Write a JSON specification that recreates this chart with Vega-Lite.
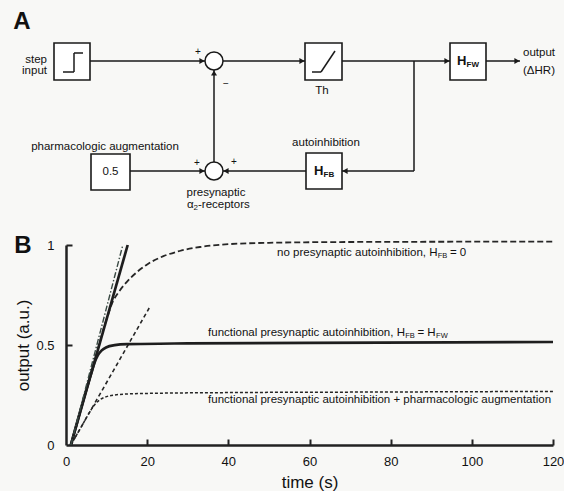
{
  "$schema": "https://vega.github.io/schema/vega-lite/v6.json",
  "width": 487,
  "height": 200,
  "autosize": {"type": "none"},
  "padding": {"left": 66, "top": 245, "right": 11, "bottom": 46},
  "background": "#f8f8f6",
  "config": {
    "view": {"stroke": null},
    "font": "Liberation Sans",
    "axis": {
      "grid": false,
      "tickWidth": 2,
      "tickColor": "#222",
      "domainWidth": 2.5,
      "domainColor": "#222",
      "labelFont": "Liberation Sans",
      "labelFontSize": 13,
      "labelColor": "#111",
      "labelFlush": false,
      "titleFont": "Liberation Sans",
      "titleFontSize": 17,
      "titleFontWeight": "normal",
      "titleColor": "#111"
    }
  },
  "datasets": {
    "curves": [
      {"s": "noai", "t": 1.2, "v": 0}, {"s": "noai", "t": 6, "v": 0.343}, {"s": "noai", "t": 10, "v": 0.629},
      {"s": "noai", "t": 11.5, "v": 0.715}, {"s": "noai", "t": 13, "v": 0.765}, {"s": "noai", "t": 15, "v": 0.816},
      {"s": "noai", "t": 17.5, "v": 0.865}, {"s": "noai", "t": 20, "v": 0.903}, {"s": "noai", "t": 24, "v": 0.944},
      {"s": "noai", "t": 28, "v": 0.97}, {"s": "noai", "t": 33, "v": 0.99}, {"s": "noai", "t": 40, "v": 1.004},
      {"s": "noai", "t": 50, "v": 1.011}, {"s": "noai", "t": 70, "v": 1.015}, {"s": "noai", "t": 120, "v": 1.017},
      {"s": "func", "t": 1.2, "v": 0}, {"s": "func", "t": 6.3, "v": 0.364}, {"s": "func", "t": 7.0, "v": 0.41},
      {"s": "func", "t": 7.8, "v": 0.447}, {"s": "func", "t": 8.8, "v": 0.473}, {"s": "func", "t": 10, "v": 0.489},
      {"s": "func", "t": 12, "v": 0.499}, {"s": "func", "t": 15, "v": 0.504}, {"s": "func", "t": 30, "v": 0.508},
      {"s": "func", "t": 60, "v": 0.511}, {"s": "func", "t": 120, "v": 0.515},
      {"s": "pharm", "t": 1.2, "v": 0}, {"s": "pharm", "t": 4, "v": 0.099}, {"s": "pharm", "t": 6, "v": 0.17},
      {"s": "pharm", "t": 7.2, "v": 0.205}, {"s": "pharm", "t": 8.5, "v": 0.228}, {"s": "pharm", "t": 10, "v": 0.242},
      {"s": "pharm", "t": 12, "v": 0.25}, {"s": "pharm", "t": 15, "v": 0.255}, {"s": "pharm", "t": 20, "v": 0.258},
      {"s": "pharm", "t": 40, "v": 0.262}, {"s": "pharm", "t": 80, "v": 0.265}, {"s": "pharm", "t": 120, "v": 0.268},
      {"s": "lin", "t": 1.2, "v": 0}, {"s": "lin", "t": 15.2, "v": 1.0},
      {"s": "dd", "t": 1.2, "v": 0}, {"s": "dd", "t": 14.0, "v": 1.0},
      {"s": "half", "t": 1.2, "v": 0}, {"s": "half", "t": 20.5, "v": 0.685}
    ],
    "clabels": [
      {"k": "m", "t": 52.0, "v": 0.96, "text": "no presynaptic autoinhibition, H"},
      {"k": "s", "t": 91.6, "v": 0.945, "text": "FB"},
      {"k": "m", "t": 94.6, "v": 0.96, "text": "= 0"},
      {"k": "m", "t": 35.0, "v": 0.56, "text": "functional presynaptic autoinhibition, H"},
      {"k": "s", "t": 83.6, "v": 0.545, "text": "FB"},
      {"k": "m", "t": 86.6, "v": 0.56, "text": "= H"},
      {"k": "s", "t": 91.2, "v": 0.545, "text": "FW"},
      {"k": "m", "t": 35.0, "v": 0.225, "text": "functional presynaptic autoinhibition + pharmacologic augmentation"}
    ],
    "boxes": [
      {"x": 54, "y": 43, "x2": 90, "y2": 80},
      {"x": 305, "y": 43, "x2": 342, "y2": 80},
      {"x": 450, "y": 43, "x2": 486, "y2": 80},
      {"x": 306, "y": 153, "x2": 342, "y2": 189},
      {"x": 91, "y": 154, "x2": 130, "y2": 190}
    ],
    "wires": [
      {"x": 90, "y": 61, "x2": 205, "y2": 61},
      {"x": 223, "y": 61, "x2": 305, "y2": 61},
      {"x": 342, "y": 61, "x2": 450, "y2": 61},
      {"x": 486, "y": 61, "x2": 520, "y2": 61},
      {"x": 414, "y": 61, "x2": 414, "y2": 171},
      {"x": 414, "y": 171, "x2": 342, "y2": 171},
      {"x": 306, "y": 171, "x2": 223, "y2": 171},
      {"x": 130, "y": 171, "x2": 205, "y2": 171},
      {"x": 214, "y": 162, "x2": 214, "y2": 70}
    ],
    "glyphs": [
      {"x": 63, "y": 72, "x2": 74, "y2": 72},
      {"x": 74, "y": 72, "x2": 74, "y2": 53},
      {"x": 74, "y": 53, "x2": 83, "y2": 53},
      {"x": 312, "y": 72, "x2": 321, "y2": 72},
      {"x": 321, "y": 72, "x2": 335, "y2": 51}
    ],
    "arrows": [
      {"x": 202, "y": 61, "d": "right"},
      {"x": 302, "y": 61, "d": "right"},
      {"x": 447, "y": 61, "d": "right"},
      {"x": 517, "y": 61, "d": "right"},
      {"x": 345, "y": 171, "d": "left"},
      {"x": 226, "y": 171, "d": "left"},
      {"x": 202, "y": 171, "d": "right"},
      {"x": 214, "y": 73, "d": "up"}
    ],
    "junctions": [
      {"x": 214, "y": 61},
      {"x": 214, "y": 171}
    ],
    "dtexts": [
      {"k": "c", "x": 322, "y": 91, "text": "Th"},
      {"k": "c", "x": 539, "y": 53, "text": "output"},
      {"k": "c", "x": 539, "y": 71, "text": "(ΔHR)"},
      {"k": "c", "x": 326, "y": 143, "text": "autoinhibition"},
      {"k": "c", "x": 105, "y": 147, "text": "pharmacologic augmentation"},
      {"k": "c", "x": 110.5, "y": 172, "text": "0.5"},
      {"k": "c", "x": 216, "y": 193, "text": "presynaptic"},
      {"k": "r", "x": 47, "y": 60, "text": "step"},
      {"k": "r", "x": 47, "y": 71, "text": "input"},
      {"k": "l", "x": 187, "y": 205, "text": "α"},
      {"k": "l", "x": 198, "y": 205, "text": "-receptors"},
      {"k": "n", "x": 193.5, "y": 208, "text": "2"},
      {"k": "p", "x": 22, "y": 22, "text": "A"},
      {"k": "p", "x": 23, "y": 246, "text": "B"},
      {"k": "h", "x": 457, "y": 61, "text": "H"},
      {"k": "h", "x": 314, "y": 171, "text": "H"},
      {"k": "s", "x": 466.5, "y": 65, "text": "FW"},
      {"k": "s", "x": 323.5, "y": 175, "text": "FB"},
      {"k": "g", "x": 198, "y": 52, "text": "+"},
      {"k": "g", "x": 226, "y": 84, "text": "−"},
      {"k": "g", "x": 197, "y": 163, "text": "+"},
      {"k": "g", "x": 234, "y": 162, "text": "+"}
    ]
  },
  "layer": [
    {
      "resolve": {"axis": {"x": "independent", "y": "independent"}},
      "layer": [
        {
          "data": {"name": "curves"},
          "transform": [{"filter": "datum.s == 'noai'"}],
          "mark": {"type": "line", "color": "#262626", "strokeWidth": 1.8, "strokeDash": [6, 3], "interpolate": "monotone"},
          "encoding": {
            "x": {"field": "t", "type": "quantitative", "scale": {"domain": [0, 120], "nice": false, "zero": false},
                  "axis": {"values": [0, 20, 40, 60, 80, 100, 120], "ticks": false, "tickSize": 0, "labelPadding": 10, "titlePadding": 6}, "title": "time (s)"},
            "y": {"field": "v", "type": "quantitative", "scale": {"domain": [0, 1], "nice": false, "zero": false},
                  "axis": {"values": [0, 0.5, 1], "format": "~g", "ticks": false, "tickSize": 0, "labelPadding": 12, "titlePadding": 3}, "title": "output (a.u.)"}
          }
        },
        {
          "data": {"name": "curves"},
          "transform": [{"filter": "datum.s == 'half'"}],
          "mark": {"type": "line", "color": "#262626", "strokeWidth": 1.6, "strokeDash": [4, 3]},
          "encoding": {
            "x": {"field": "t", "type": "quantitative", "scale": {"domain": [0, 120], "nice": false, "zero": false},
                  "axis": {"orient": "top", "offset": -200, "values": [20, 40, 60, 80, 100, 120], "domain": false, "labels": false, "ticks": true, "tickSize": 6, "title": null}},
            "y": {"field": "v", "type": "quantitative", "scale": {"domain": [0, 1], "nice": false, "zero": false},
                  "axis": {"orient": "right", "offset": -487, "values": [0.5, 1], "domain": false, "labels": false, "ticks": true, "tickSize": 6, "title": null}}
          }
        },
        {
          "data": {"name": "curves"},
          "transform": [{"filter": "datum.s == 'pharm'"}],
          "mark": {"type": "line", "color": "#262626", "strokeWidth": 1.5, "strokeDash": [3, 2], "interpolate": "monotone"},
          "encoding": {
            "x": {"field": "t", "type": "quantitative", "scale": {"domain": [0, 120], "nice": false, "zero": false}, "axis": null},
            "y": {"field": "v", "type": "quantitative", "scale": {"domain": [0, 1], "nice": false, "zero": false}, "axis": null}
          }
        },
        {
          "data": {"name": "curves"},
          "transform": [{"filter": "datum.s == 'func'"}],
          "mark": {"type": "line", "color": "#1e1e1e", "strokeWidth": 2.7, "interpolate": "monotone"},
          "encoding": {
            "x": {"field": "t", "type": "quantitative", "scale": {"domain": [0, 120], "nice": false, "zero": false}, "axis": null},
            "y": {"field": "v", "type": "quantitative", "scale": {"domain": [0, 1], "nice": false, "zero": false}, "axis": null}
          }
        },
        {
          "data": {"name": "curves"},
          "transform": [{"filter": "datum.s == 'lin'"}],
          "mark": {"type": "line", "color": "#1e1e1e", "strokeWidth": 2.7},
          "encoding": {
            "x": {"field": "t", "type": "quantitative", "scale": {"domain": [0, 120], "nice": false, "zero": false}, "axis": null},
            "y": {"field": "v", "type": "quantitative", "scale": {"domain": [0, 1], "nice": false, "zero": false}, "axis": null}
          }
        },
        {
          "data": {"name": "curves"},
          "transform": [{"filter": "datum.s == 'dd'"}],
          "mark": {"type": "line", "color": "#3a4a44", "strokeWidth": 1.4, "strokeDash": [6, 2, 1.5, 2]},
          "encoding": {
            "x": {"field": "t", "type": "quantitative", "scale": {"domain": [0, 120], "nice": false, "zero": false}, "axis": null},
            "y": {"field": "v", "type": "quantitative", "scale": {"domain": [0, 1], "nice": false, "zero": false}, "axis": null}
          }
        },
        {
          "data": {"name": "clabels"},
          "transform": [{"filter": "datum.k == 'm'"}],
          "mark": {"type": "text", "align": "left", "baseline": "middle", "fontSize": 11.5, "color": "#111", "font": "Liberation Sans"},
          "encoding": {
            "x": {"field": "t", "type": "quantitative", "scale": {"domain": [0, 120], "nice": false, "zero": false}, "axis": null},
            "y": {"field": "v", "type": "quantitative", "scale": {"domain": [0, 1], "nice": false, "zero": false}, "axis": null},
            "text": {"field": "text"}
          }
        },
        {
          "data": {"name": "clabels"},
          "transform": [{"filter": "datum.k == 's'"}],
          "mark": {"type": "text", "align": "left", "baseline": "middle", "fontSize": 7.5, "color": "#111", "font": "Liberation Sans"},
          "encoding": {
            "x": {"field": "t", "type": "quantitative", "scale": {"domain": [0, 120], "nice": false, "zero": false}, "axis": null},
            "y": {"field": "v", "type": "quantitative", "scale": {"domain": [0, 1], "nice": false, "zero": false}, "axis": null},
            "text": {"field": "text"}
          }
        }
      ]
    },
    {
      "layer": [
        {
          "data": {"name": "wires"},
          "mark": {"type": "rule", "color": "#1a1a1a", "strokeWidth": 1.5},
          "encoding": {
            "x": {"field": "x", "type": "quantitative", "scale": {"domain": [0, 564], "range": [-66, 498], "nice": false, "zero": false}, "axis": null},
            "y": {"field": "y", "type": "quantitative", "scale": {"domain": [0, 245], "range": [-245, 0], "nice": false, "zero": false}, "axis": null},
            "x2": {"field": "x2"},
            "y2": {"field": "y2"}
          }
        },
        {
          "data": {"name": "boxes"},
          "mark": {"type": "rect", "fill": "#ffffff", "stroke": "#1a1a1a", "strokeWidth": 1.6},
          "encoding": {
            "x": {"field": "x", "type": "quantitative", "scale": {"domain": [0, 564], "range": [-66, 498], "nice": false, "zero": false}, "axis": null},
            "y": {"field": "y", "type": "quantitative", "scale": {"domain": [0, 245], "range": [-245, 0], "nice": false, "zero": false}, "axis": null},
            "x2": {"field": "x2"},
            "y2": {"field": "y2"}
          }
        },
        {
          "data": {"name": "glyphs"},
          "mark": {"type": "rule", "color": "#1a1a1a", "strokeWidth": 1.5},
          "encoding": {
            "x": {"field": "x", "type": "quantitative", "scale": {"domain": [0, 564], "range": [-66, 498], "nice": false, "zero": false}, "axis": null},
            "y": {"field": "y", "type": "quantitative", "scale": {"domain": [0, 245], "range": [-245, 0], "nice": false, "zero": false}, "axis": null},
            "x2": {"field": "x2"},
            "y2": {"field": "y2"}
          }
        },
        {
          "data": {"name": "junctions"},
          "mark": {"type": "point", "shape": "circle", "size": 324, "filled": true, "fill": "#ffffff", "stroke": "#1a1a1a", "strokeWidth": 1.5, "opacity": 1},
          "encoding": {
            "x": {"field": "x", "type": "quantitative", "scale": {"domain": [0, 564], "range": [-66, 498], "nice": false, "zero": false}, "axis": null},
            "y": {"field": "y", "type": "quantitative", "scale": {"domain": [0, 245], "range": [-245, 0], "nice": false, "zero": false}, "axis": null}
          }
        },
        {
          "data": {"name": "arrows"},
          "mark": {"type": "point", "filled": true, "size": 36, "color": "#1a1a1a", "opacity": 1},
          "encoding": {
            "x": {"field": "x", "type": "quantitative", "scale": {"domain": [0, 564], "range": [-66, 498], "nice": false, "zero": false}, "axis": null},
            "y": {"field": "y", "type": "quantitative", "scale": {"domain": [0, 245], "range": [-245, 0], "nice": false, "zero": false}, "axis": null},
            "shape": {"field": "d", "type": "nominal", "scale": {"domain": ["right", "left", "up"], "range": ["triangle-right", "triangle-left", "triangle-up"]}, "legend": null}
          }
        },
        {
          "data": {"name": "dtexts"},
          "transform": [{"filter": "datum.k == 'c'"}],
          "mark": {"type": "text", "align": "center", "baseline": "middle", "fontSize": 11.5, "color": "#111", "font": "Liberation Sans"},
          "encoding": {
            "x": {"field": "x", "type": "quantitative", "scale": {"domain": [0, 564], "range": [-66, 498], "nice": false, "zero": false}, "axis": null},
            "y": {"field": "y", "type": "quantitative", "scale": {"domain": [0, 245], "range": [-245, 0], "nice": false, "zero": false}, "axis": null},
            "text": {"field": "text"}
          }
        },
        {
          "data": {"name": "dtexts"},
          "transform": [{"filter": "datum.k == 'r'"}],
          "mark": {"type": "text", "align": "right", "baseline": "middle", "fontSize": 11.5, "color": "#111", "font": "Liberation Sans"},
          "encoding": {
            "x": {"field": "x", "type": "quantitative", "scale": {"domain": [0, 564], "range": [-66, 498], "nice": false, "zero": false}, "axis": null},
            "y": {"field": "y", "type": "quantitative", "scale": {"domain": [0, 245], "range": [-245, 0], "nice": false, "zero": false}, "axis": null},
            "text": {"field": "text"}
          }
        },
        {
          "data": {"name": "dtexts"},
          "transform": [{"filter": "datum.k == 'l'"}],
          "mark": {"type": "text", "align": "left", "baseline": "middle", "fontSize": 11.5, "color": "#111", "font": "Liberation Sans"},
          "encoding": {
            "x": {"field": "x", "type": "quantitative", "scale": {"domain": [0, 564], "range": [-66, 498], "nice": false, "zero": false}, "axis": null},
            "y": {"field": "y", "type": "quantitative", "scale": {"domain": [0, 245], "range": [-245, 0], "nice": false, "zero": false}, "axis": null},
            "text": {"field": "text"}
          }
        },
        {
          "data": {"name": "dtexts"},
          "transform": [{"filter": "datum.k == 'n'"}],
          "mark": {"type": "text", "align": "left", "baseline": "middle", "fontSize": 8, "color": "#111", "font": "Liberation Sans"},
          "encoding": {
            "x": {"field": "x", "type": "quantitative", "scale": {"domain": [0, 564], "range": [-66, 498], "nice": false, "zero": false}, "axis": null},
            "y": {"field": "y", "type": "quantitative", "scale": {"domain": [0, 245], "range": [-245, 0], "nice": false, "zero": false}, "axis": null},
            "text": {"field": "text"}
          }
        },
        {
          "data": {"name": "dtexts"},
          "transform": [{"filter": "datum.k == 'p'"}],
          "mark": {"type": "text", "align": "center", "baseline": "middle", "fontSize": 24, "fontWeight": "bold", "color": "#111", "font": "Liberation Sans"},
          "encoding": {
            "x": {"field": "x", "type": "quantitative", "scale": {"domain": [0, 564], "range": [-66, 498], "nice": false, "zero": false}, "axis": null},
            "y": {"field": "y", "type": "quantitative", "scale": {"domain": [0, 245], "range": [-245, 0], "nice": false, "zero": false}, "axis": null},
            "text": {"field": "text"}
          }
        },
        {
          "data": {"name": "dtexts"},
          "transform": [{"filter": "datum.k == 'h'"}],
          "mark": {"type": "text", "align": "left", "baseline": "middle", "fontSize": 13, "fontWeight": "bold", "color": "#111", "font": "Liberation Sans"},
          "encoding": {
            "x": {"field": "x", "type": "quantitative", "scale": {"domain": [0, 564], "range": [-66, 498], "nice": false, "zero": false}, "axis": null},
            "y": {"field": "y", "type": "quantitative", "scale": {"domain": [0, 245], "range": [-245, 0], "nice": false, "zero": false}, "axis": null},
            "text": {"field": "text"}
          }
        },
        {
          "data": {"name": "dtexts"},
          "transform": [{"filter": "datum.k == 's'"}],
          "mark": {"type": "text", "align": "left", "baseline": "middle", "fontSize": 8, "fontWeight": "bold", "color": "#111", "font": "Liberation Sans"},
          "encoding": {
            "x": {"field": "x", "type": "quantitative", "scale": {"domain": [0, 564], "range": [-66, 498], "nice": false, "zero": false}, "axis": null},
            "y": {"field": "y", "type": "quantitative", "scale": {"domain": [0, 245], "range": [-245, 0], "nice": false, "zero": false}, "axis": null},
            "text": {"field": "text"}
          }
        },
        {
          "data": {"name": "dtexts"},
          "transform": [{"filter": "datum.k == 'g'"}],
          "mark": {"type": "text", "align": "center", "baseline": "middle", "fontSize": 10, "color": "#111", "font": "Liberation Sans"},
          "encoding": {
            "x": {"field": "x", "type": "quantitative", "scale": {"domain": [0, 564], "range": [-66, 498], "nice": false, "zero": false}, "axis": null},
            "y": {"field": "y", "type": "quantitative", "scale": {"domain": [0, 245], "range": [-245, 0], "nice": false, "zero": false}, "axis": null},
            "text": {"field": "text"}
          }
        }
      ]
    }
  ],
  "resolve": {"scale": {"x": "independent", "y": "independent"}}
}
